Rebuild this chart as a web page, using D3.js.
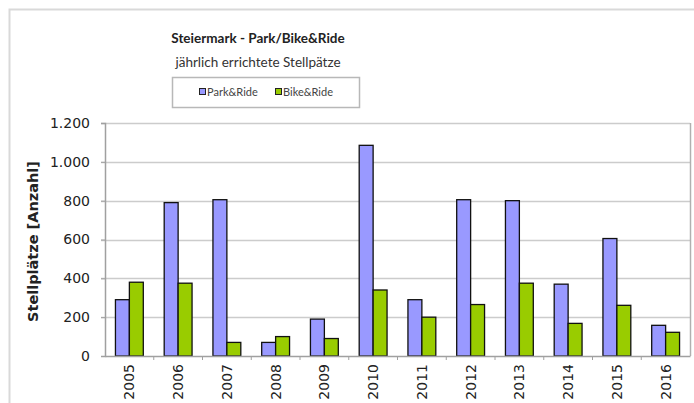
<!DOCTYPE html>
<html>
<head>
<meta charset="utf-8">
<script src="https://cdn.jsdelivr.net/npm/d3@7"></script>
<style>
  body { margin: 0; background: #fff; }
  svg { display: block; }
</style>
</head>
<body>
<div id="chart"></div>
<script>
// Steiermark Park/Bike&Ride - grouped bars per year

const years = ["2005", "2006", "2007", "2008", "2009", "2010", "2011", "2012", "2013", "2014", "2015", "2016"];
const parkRide = [290, 790, 805, 70, 190, 1085, 290, 805, 800, 370, 605, 158];
const bikeRide = [380, 375, 70, 100, 90, 340, 200, 265, 375, 168, 261, 122];
const seriesNames = ["Park&Ride", "Bike&Ride"];
const yTicks = [0, 200, 400, 600, 800, 1000, 1200];

const width = 694;
const height = 403;
const margin = { top: 123, right: 4, bottom: 47, left: 105 };

const colors = { "Park&Ride": "#9999ff", "Bike&Ride": "#99cc00" };

const svg = d3
  .select("#chart")
  .append("svg")
  .attr("width", width)
  .attr("height", height);

// outer chart frame (cut off on right/bottom in the original)
svg
  .append("path")
  .attr("d", `M9.5,${height} V9.5 H${width}`)
  .attr("fill", "none")
  .attr("stroke", "#d9d9d9")
  .attr("stroke-width", 2);

const x = d3
  .scaleBand()
  .domain(years)
  .range([margin.left, width - margin.right])
  .padding(0);

const xSeries = d3
  .scaleBand()
  .domain(seriesNames)
  .range([0, x.bandwidth()])
  .paddingInner(0)
  .paddingOuter(0.75);

const y = d3
  .scaleLinear()
  .domain([0, 1200])
  .range([height - margin.bottom, margin.top]);

const de = d3.formatLocale({ decimal: ",", thousands: ".", grouping: [3], currency: ["", " €"] });
const fmt = de.format(",d");

// gridlines
svg
  .append("g")
  .selectAll("line")
  .data(yTicks.slice(1))
  .enter()
  .append("line")
  .attr("x1", margin.left - 4)
  .attr("x2", width - margin.right)
  .attr("y1", (d) => Math.round(y(d)) + 0.5)
  .attr("y2", (d) => Math.round(y(d)) + 0.5)
  .attr("stroke", "#cccccc")
  .attr("stroke-width", 1.5);

// plot border right
svg
  .append("line")
  .attr("x1", width - margin.right + 0.5)
  .attr("x2", width - margin.right + 0.5)
  .attr("y1", margin.top)
  .attr("y2", height - margin.bottom)
  .attr("stroke", "#b0b0b0")
  .attr("stroke-width", 1.5);

// y axis
const yAxis = d3.axisLeft(y).tickValues(yTicks).tickFormat(fmt).tickSize(4).tickPadding(11);
const yg = svg
  .append("g")
  .attr("transform", `translate(${margin.left},0)`)
  .call(yAxis);
yg.select(".domain").attr("stroke", "#a0a0a0").attr("stroke-width", 1.5);
yg.selectAll(".tick line").attr("stroke", "#a0a0a0");
yg.selectAll("text")
  .attr("font-family", "DejaVu Sans, sans-serif")
  .attr("font-size", 14)
  .attr("fill", "#222");

// bars
const rows = years.map((yr, i) => ({ year: yr, "Park&Ride": parkRide[i], "Bike&Ride": bikeRide[i] }));

svg
  .append("g")
  .selectAll("g")
  .data(rows)
  .enter()
  .append("g")
  .attr("transform", (d) => `translate(${x(d.year)},0)`)
  .selectAll("rect")
  .data((d) => seriesNames.map((s) => ({ key: s, value: d[s] })))
  .enter()
  .append("rect")
  .attr("x", (d) => xSeries(d.key))
  .attr("y", (d) => y(d.value))
  .attr("width", xSeries.bandwidth())
  .attr("height", (d) => y(0) - y(d.value))
  .attr("fill", (d) => colors[d.key])
  .attr("stroke", "#111")
  .attr("stroke-width", 1.3);

// x axis
const xAxis = d3.axisBottom(x).tickSize(0).tickPadding(8);
const xg = svg
  .append("g")
  .attr("transform", `translate(0,${y(0)})`)
  .call(xAxis);
xg.select(".domain").attr("stroke", "#a0a0a0").attr("stroke-width", 1.5);
xg.selectAll("text")
  .attr("font-family", "DejaVu Sans, sans-serif")
  .attr("font-size", 14)
  .attr("fill", "#222")
  .style("text-anchor", "end")
  .attr("transform", "rotate(-90)")
  .attr("x", -8)
  .attr("y", 0)
  .attr("dy", "0.35em");

// category separator ticks
xg.selectAll(".sep")
  .data(years.slice(1))
  .enter()
  .append("line")
  .attr("class", "sep")
  .attr("x1", (d) => x(d))
  .attr("x2", (d) => x(d))
  .attr("y1", 0)
  .attr("y2", 4)
  .attr("stroke", "#a0a0a0");

// y axis title
svg
  .append("text")
  .attr("transform", `translate(33,${(margin.top + y(0)) / 2 + 2}) rotate(-90)`)
  .attr("dy", "0.35em")
  .attr("text-anchor", "middle")
  .attr("font-family", "DejaVu Sans, sans-serif")
  .attr("font-weight", "bold")
  .attr("font-size", 14.5)
  .attr("fill", "#222")
  .text("Stellplätze [Anzahl]");

// titles
svg
  .append("text")
  .attr("x", 258)
  .attr("y", 43)
  .attr("text-anchor", "middle")
  .attr("font-family", "Lato, sans-serif")
  .attr("font-weight", "bold")
  .attr("font-size", 13.5)
  .attr("fill", "#222")
  .text("Steiermark - Park/Bike&Ride");

svg
  .append("text")
  .attr("x", 258)
  .attr("y", 67)
  .attr("text-anchor", "middle")
  .attr("font-family", "Lato, sans-serif")
  .attr("font-size", 13.5)
  .attr("fill", "#333")
  .text("jährlich errichtete Stellpätze");

// legend
const legend = svg.append("g").attr("transform", "translate(172,77)");
legend
  .append("rect")
  .attr("x", 0.5)
  .attr("y", 0.5)
  .attr("width", 187)
  .attr("height", 30)
  .attr("fill", "#fff")
  .attr("stroke", "#b8b8b8")
  .attr("stroke-width", 1.5);

const legendX = [27, 103];
seriesNames.forEach((s, i) => {
  const item = legend.append("g").attr("transform", `translate(${legendX[i]},15)`);
  item
    .append("rect")
    .attr("x", 0.5)
    .attr("y", -3.5)
    .attr("width", 6)
    .attr("height", 6)
    .attr("fill", colors[s])
    .attr("stroke", "#222");
  item
    .append("text")
    .attr("x", 8)
    .attr("y", 0)
    .attr("dy", "0.35em")
    .attr("font-family", "Lato, sans-serif")
    .attr("font-size", 11)
    .attr("fill", "#444")
    .text(s);
});
</script>
</body>
</html>
